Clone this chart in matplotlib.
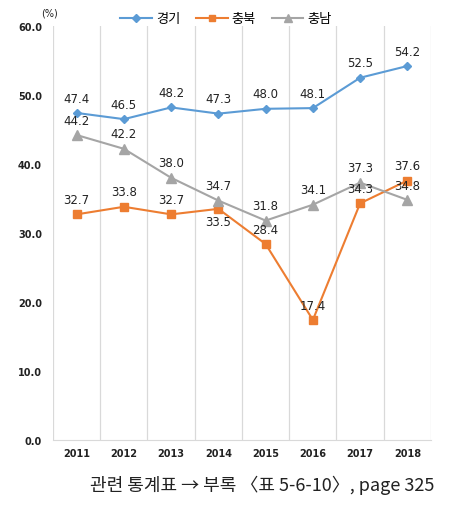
import matplotlib
matplotlib.use("Agg")
import matplotlib.pyplot as plt
import numpy as np

plt.rcParams['font.family'] = ['Noto Sans CJK KR', 'DejaVu Sans']

years = ['2011', '2012', '2013', '2014', '2015', '2016', '2017', '2018']
gyeonggi = [47.4, 46.5, 48.2, 47.3, 48.0, 48.1, 52.5, 54.2]
chungbuk = [32.7, 33.8, 32.7, 33.5, 28.4, 17.4, 34.3, 37.6]
chungnam = [44.2, 42.2, 38.0, 34.7, 31.8, 34.1, 37.3, 34.8]
series_names = ['경기', '충북', '충남']
yticks = [0, 10, 20, 30, 40, 50, 60]
chungbuk_below = [False, False, False, True, False, False, False, False]

fig = plt.figure(figsize=(4.52, 5.06), dpi=100)
ax = fig.add_axes([53/452, 65/506, 378/452, 414/506])

x = np.arange(len(years))
ax.plot(x, gyeonggi, color='#5B9BD5', marker='D', markersize=4.5, lw=1.5, label=series_names[0])
ax.plot(x, chungbuk, color='#ED7D31', marker='s', markersize=5.5, lw=1.5, label=series_names[1])
ax.plot(x, chungnam, color='#A5A5A5', marker='^', markersize=6.5, lw=1.5, label=series_names[2])

ax.set_xlim(-0.5, len(years) - 0.5)
ax.set_ylim(0, 60)
ax.set_yticks(yticks)
ax.set_yticklabels([f'{v:.1f}' for v in yticks], fontsize=7, fontweight='bold', color='#222222', family='DejaVu Sans')
ax.set_xticks(x)
ax.set_xticklabels(years, fontsize=7, fontweight='bold', color='#222222', family='DejaVu Sans')
ax.tick_params(length=0)
ax.tick_params(axis='x', pad=6)
ax.tick_params(axis='y', pad=8)

for b in np.arange(-0.5, len(years), 1.0):
    ax.axvline(b, color='#d9d9d9', lw=0.9, zorder=0)
for s in ['top', 'right', 'left']:
    ax.spines[s].set_visible(False)
ax.spines['bottom'].set_color('#d9d9d9')

lab_kw = dict(ha='center', fontsize=8.5, color='#222222', family='DejaVu Sans')
for i, v in enumerate(gyeonggi):
    ax.annotate(f'{v:.1f}', (i, v), xytext=(0, 6), textcoords='offset points', va='bottom', **lab_kw)
for i, v in enumerate(chungbuk):
    if chungbuk_below[i]:
        ax.annotate(f'{v:.1f}', (i, v), xytext=(0, -4.5), textcoords='offset points', va='top', **lab_kw)
    else:
        ax.annotate(f'{v:.1f}', (i, v), xytext=(0, 6), textcoords='offset points', va='bottom', **lab_kw)
for i, v in enumerate(chungnam):
    ax.annotate(f'{v:.1f}', (i, v), xytext=(0, 6), textcoords='offset points', va='bottom', **lab_kw)

fig.text(50/452, 1 - 13/506, '(%)', fontsize=7, ha='center', va='center', color='#222222', family='DejaVu Sans')

leg = fig.legend(loc='center', bbox_to_anchor=(226/452, 1 - 20/506), ncol=3, frameon=False,
                 fontsize=9.5, handlelength=2.4, columnspacing=1.2, handletextpad=0.3, markerscale=0.85)

fig.text(262/452, 1 - 485/506, '관련 통계표 → 부록 〈표 5-6-10〉, page 325', fontsize=13,
         ha='center', va='center', color='#222222')

fig.savefig('out.png', dpi=100)
